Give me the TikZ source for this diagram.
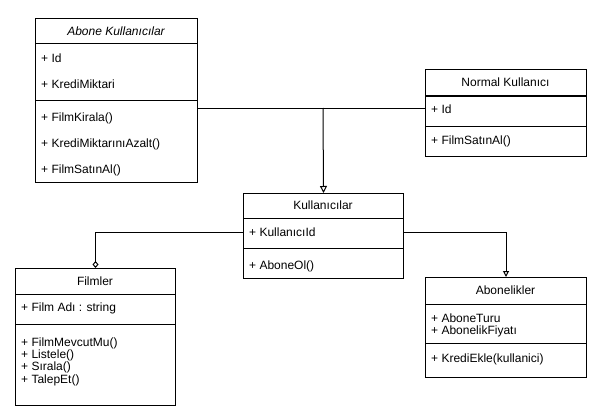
\documentclass[tikz,border=0pt]{standalone}
\usepackage{fontspec}
\setmainfont{Liberation Sans}
\usetikzlibrary{arrows.meta}
\begin{document}
\begin{tikzpicture}[x=1pt,y=-1pt,
  every node/.style={font=\fontsize{12}{14}\selectfont},
  box/.style={draw, line width=1pt, rectangle, inner sep=0pt, anchor=north west},
  sep/.style={line width=1pt},
  attr/.style={anchor=west, inner sep=0pt},
  head/.style={anchor=center, inner sep=0pt},
  conn/.style={line width=1pt}
]
\useasboundingbox (0,0) rectangle (608,420);

% Abone Kullanicilar
\node[box, minimum width=162pt, minimum height=164pt] (abone) at (35,18) {};
\draw[sep] (35,44) -- (197,44);
\draw[sep] (35,100) -- (197,100);
\node[head] (aboneh) at (116,31) {\itshape Abone Kullanıcılar};
\node[attr] (ab1) at (41,58) {+ Id};
\node[attr] (ab2) at (41,84) {+ KrediMiktari};
\node[attr] (ab3) at (41,118) {+ FilmKirala()};
\node[attr] (ab4) at (41,144) {+ KrediMiktarınıAzalt()};
\node[attr] (ab5) at (41,170) {+ FilmSatınAl()};

% Normal Kullanici
\node[box, minimum width=161pt, minimum height=87pt] (normal) at (425,69) {};
\draw[sep] (425,96) -- (586,96);
\draw[sep] (425,126) -- (586,126);
\node[head] (normalh) at (505.5,82.5) {Normal Kullanıcı};
\node[attr] (n1) at (431,109) {+ Id};
\node[attr] (n2) at (431,141) {+ FilmSatınAl()};

% Kullanicilar
\node[box, minimum width=160pt, minimum height=85pt] (kull) at (243,193) {};
\draw[sep] (243,218) -- (403,218);
\draw[sep] (243,248) -- (403,248);
\node[head] (kullh) at (323,205.5) {Kullanıcılar};
\node[attr] (kid) at (249,232) {+ KullanıcıId};
\node[attr] (k2) at (249,266) {+ AboneOl()};

% Filmler
\node[box, minimum width=160pt, minimum height=137pt] (film) at (15,268) {};
\draw[sep] (15,294) -- (175,294);
\draw[sep] (15,324) -- (175,324);
\node[head] (filmh) at (95,281) {Filmler};
\node[attr] (f1) at (21,308) {+ Film Adı : string};
\node[attr] (f2) at (21,343) {+ FilmMevcutMu()};
\node[attr] (f3) at (21,355.5) {+ Listele()};
\node[attr] (f4) at (21,367.5) {+ Sırala()};
\node[attr] (f5) at (21,380) {+ TalepEt()};

% Abonelikler
\node[box, minimum width=161pt, minimum height=100pt] (abl) at (425,277) {};
\draw[sep] (425,304) -- (586,304);
\draw[sep] (425,343) -- (586,343);
\node[head] (ablh) at (505.5,290.5) {Abonelikler};
\node[attr] (al1) at (431,318) {+ AboneTuru};
\node[attr] (al2) at (431,331) {+ AbonelikFiyatı};
\node[attr] (al3) at (431,359) {+ KrediEkle(kullanici)};

% Connectors
\coordinate (j) at (323,108);
\draw[conn] (abone.north east |- j) -- (normal.north west |- j);
\draw[conn, -{Triangle[open, length=7pt, width=7pt]}] (j) -- (kull.north);
\draw[conn, -{Diamond[open, length=7pt, width=6pt]}] (kull.north west |- kid) -| (film.north);
\draw[conn, -{Triangle[open, length=6pt, width=6pt]}] (kull.north east |- kid) -| (abl.north);
\end{tikzpicture}
\end{document}
